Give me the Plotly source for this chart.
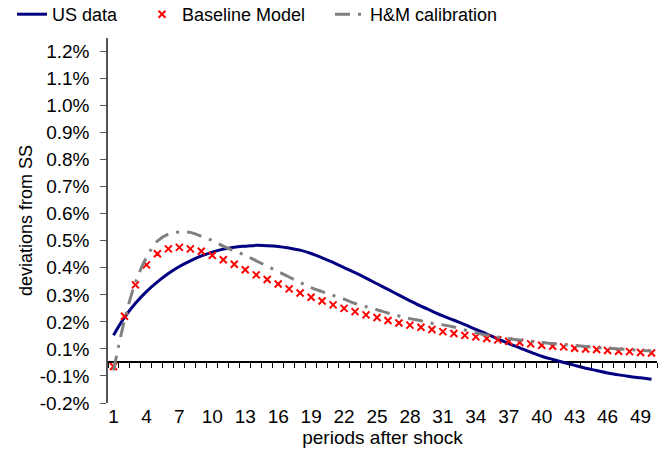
import plotly.graph_objects as go

periods = list(range(1, 51))

us_data = [0.101, 0.167, 0.219, 0.262, 0.298, 0.329, 0.355, 0.376, 0.394, 0.408,
           0.419, 0.426, 0.430, 0.433, 0.432, 0.429, 0.423, 0.4155, 0.403, 0.387,
           0.370, 0.351, 0.332, 0.312, 0.291, 0.270, 0.249, 0.228, 0.208, 0.190,
           0.172, 0.156, 0.140, 0.122, 0.105, 0.087, 0.070, 0.054, 0.038, 0.023,
           0.011, 0.000, -0.011, -0.0215, -0.030, -0.039, -0.046, -0.052, -0.057, -0.062]

baseline = [-0.015, 0.171, 0.287, 0.361, 0.402, 0.420, 0.4255, 0.420, 0.411, 0.396,
            0.380, 0.363, 0.343, 0.324, 0.307, 0.290, 0.272, 0.257, 0.241, 0.227,
            0.213, 0.200, 0.188, 0.176, 0.166, 0.155, 0.146, 0.138, 0.130, 0.122,
            0.114, 0.107, 0.100, 0.0946, 0.0884, 0.0834, 0.0785, 0.0736, 0.0686, 0.0637,
            0.060, 0.0575, 0.0526, 0.050, 0.0477, 0.044, 0.0415, 0.040, 0.0366, 0.035]

hm_calib = [-0.030, 0.155, 0.296, 0.388, 0.449, 0.475, 0.483, 0.481, 0.467, 0.451,
            0.430, 0.412, 0.396, 0.376, 0.356, 0.336, 0.316, 0.296, 0.277, 0.262,
            0.248, 0.234, 0.218, 0.206, 0.195, 0.183, 0.172, 0.162, 0.154, 0.145,
            0.139, 0.131, 0.120, 0.110, 0.101, 0.094, 0.088, 0.083, 0.0785, 0.0736,
            0.070, 0.066, 0.0625, 0.059, 0.055, 0.0526, 0.050, 0.0477, 0.045, 0.0426]

y_tickvals = [-0.15 + 0.1 * i for i in range(14)]
y_ticktext = ["-0.2%", "-0.1%", "0.1%", "0.2%", "0.3%", "0.4%", "0.5%", "0.6%",
              "0.7%", "0.8%", "0.9%", "1.0%", "1.1%", "1.2%"]
x_tickvals = list(range(1, 51, 3))
x_ticktext = [str(v) for v in x_tickvals]
between_ticks = [i + 0.5 for i in range(0, 51)]

FONT = "Liberation Sans, Arial, sans-serif"
W, H = 671, 450
ML, MR, MT, MB = 108, 14, 38, 47
PW, PH = W - ML - MR, H - MT - MB

fig = go.Figure()
fig.add_trace(go.Scatter(x=periods, y=us_data, mode="lines", name="US data",
                         line=dict(color="#000080", width=3, shape="spline"),
                         legend="legend"))
fig.add_trace(go.Scatter(x=periods, y=baseline, mode="markers", name="Baseline Model",
                         marker=dict(symbol="x-thin", size=7, color="red",
                                     line=dict(color="red", width=2)),
                         legend="legend2"))
fig.add_trace(go.Scatter(x=periods, y=hm_calib, mode="lines", name="H&M calibration",
                         line=dict(color="#808080", width=3, dash="15px,8px,3px,8px",
                                   shape="spline"),
                         legend="legend3"))
# helper trace for the tick axis at zero
fig.add_trace(go.Scatter(x=[1], y=[0], xaxis="x2", mode="markers",
                         marker=dict(opacity=0), showlegend=False, hoverinfo="skip"))

leg_y = 1 + (MT + 4) / PH
leg_common = dict(orientation="h", xref="paper", yref="paper",
                  yanchor="top", xanchor="left", y=leg_y, bgcolor="rgba(0,0,0,0)",
                  font=dict(family=FONT, size=18, color="black"))
fig.update_layout(
    width=W, height=H,
    margin=dict(l=ML, r=MR, t=MT, b=MB, autoexpand=False),
    paper_bgcolor="white", plot_bgcolor="white",
    font=dict(family=FONT, size=19, color="black"),
    legend=dict(x=(12 - ML) / PW, **leg_common),
    legend2=dict(x=(142 - ML) / PW, **leg_common),
    legend3=dict(x=(330 - ML) / PW, **leg_common),
    xaxis=dict(range=[0.5, 50.5], tickvals=x_tickvals, ticktext=x_ticktext,
               showgrid=False, zeroline=False, showline=False, ticks="",
               automargin=False, tickfont=dict(size=19),
               title=dict(text="periods after shock", font=dict(size=19), standoff=3)),
    xaxis2=dict(range=[0.5, 50.5], overlaying="x", anchor="free",
                position=0.15 / 1.35, tickvals=between_ticks, ticks="outside",
                ticklen=5, tickcolor="black", tickwidth=1,
                showticklabels=False, showgrid=False, zeroline=False, showline=False),
    yaxis=dict(range=[-0.15, 1.2], tickvals=y_tickvals, ticktext=y_ticktext,
               showgrid=False, zeroline=True, zerolinecolor="black", zerolinewidth=1.5,
               showline=True, linecolor="#555555", linewidth=1.5,
               ticks="outside", ticklen=6, tickcolor="#555555",
               ticklabelstandoff=7, automargin=False,
               tickfont=dict(size=19),
               title=dict(text="deviations from SS", font=dict(size=18), standoff=3)),
)

fig.write_html("out.html", config={"displayModeBar": False},
               post_script="document.body.style.margin='0';document.body.style.overflow='hidden';")
